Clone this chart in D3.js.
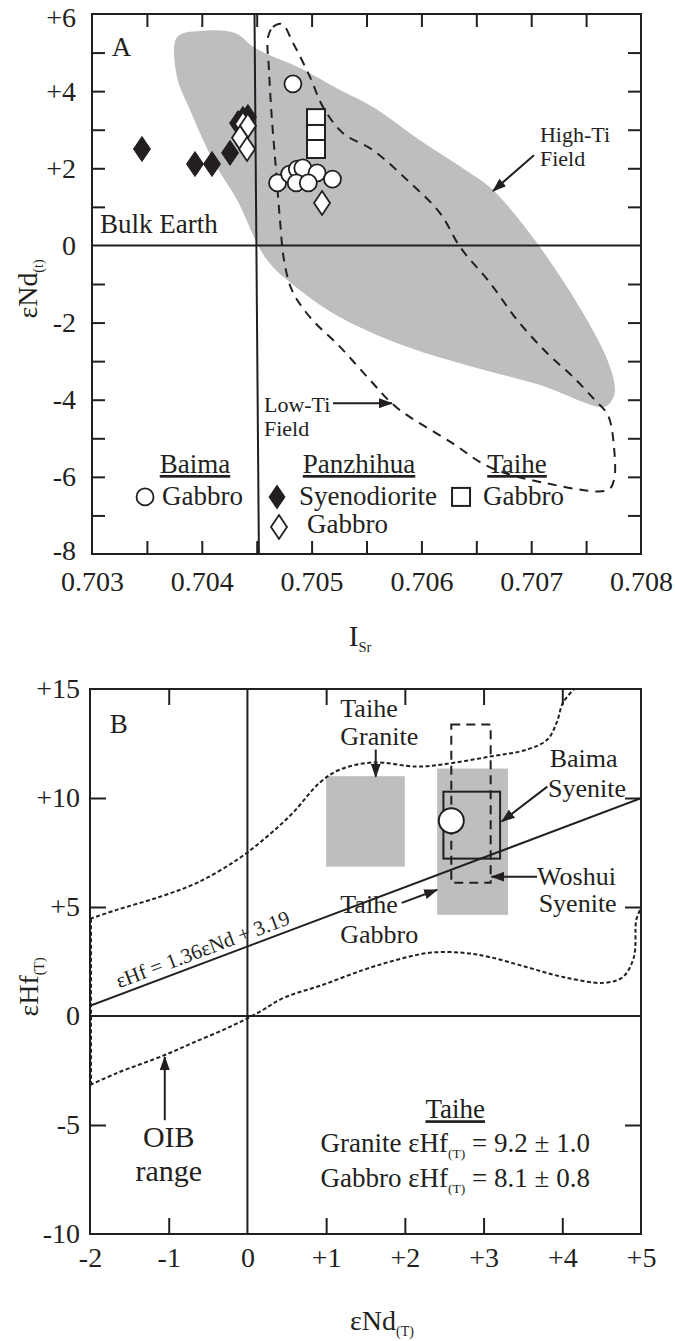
<!DOCTYPE html>
<html>
<head>
<meta charset="utf-8">
<script src="https://cdn.jsdelivr.net/npm/d3@7"></script>
<style>
  body { margin: 0; background: #fff; }
  svg { display: block; }
  text { font-family: "Liberation Serif", "Times New Roman", serif; fill: #231f20; }
</style>
</head>
<body>
<div id="chart"></div>
<script>
// ---------- panel A : eNd(t) vs ISr ----------
const aXTicks = [0.703, 0.704, 0.705, 0.706, 0.707, 0.708];
const aXMinor = [0.7035, 0.704, 0.7045, 0.705, 0.7055, 0.706, 0.7065, 0.707, 0.7075];
const aYTicks = [6, 4, 2, 0, -2, -4, -6, -8];
const aYMinor = [-7, -6, -5, -4, -3, -2, -1, 1, 2, 3, 4, 5];

const highTiField = [[0.703774, 5.40], [0.703984, 5.56], [0.704302, 5.51], [0.704485, 5.12], [0.704894, 4.60],
  [0.705259, 4.03], [0.705559, 3.59], [0.705987, 2.73], [0.706443, 1.88], [0.706652, 1.44], [0.707053, 0.06],
  [0.707508, -1.93], [0.707718, -3.15], [0.707763, -3.75], [0.707736, -4.01], [0.707663, -4.19], [0.70708, -3.62],
  [0.70647, -3.15], [0.705869, -2.63], [0.705259, -1.86], [0.704894, -1.16], [0.704594, -0.38], [0.704321, 1.18],
  [0.704102, 2.21], [0.703893, 3.51], [0.703774, 4.37]];

const lowTiField = [[0.704603, 5.40], [0.704648, 5.66], [0.70473, 5.74], [0.704831, 5.25], [0.704985, 4.37],
  [0.705104, 3.59], [0.705286, 2.91], [0.705559, 2.47], [0.705869, 1.70], [0.706169, 0.84], [0.706352, -0.04],
  [0.706625, -0.97], [0.706871, -1.93], [0.707144, -2.79], [0.707381, -3.41], [0.707581, -4.01], [0.707699, -4.40],
  [0.707754, -5.23], [0.707754, -6.08], [0.707699, -6.34], [0.707126, -6.16], [0.706616, -5.74], [0.706279, -5.12],
  [0.705769, -4.19], [0.705532, -3.49], [0.705259, -2.63], [0.704985, -1.86], [0.704821, -1.16], [0.704749, -0.38],
  [0.704712, 0.66], [0.704676, 1.96], [0.704639, 3.25], [0.704612, 4.55]];

const bulkEarthSr = [[0.70448, 6], [0.70452, -8]];
const bulkEarthNd = 0;

const baimaGabbro = [[0.70483, 4.19], [0.70469, 1.62], [0.70480, 1.85], [0.70487, 1.98], [0.70492, 2.01],
  [0.70505, 1.88], [0.70519, 1.72], [0.70486, 1.62], [0.70497, 1.62]];
const panSyenodiorite = [[0.703455, 2.50], [0.703938, 2.11], [0.704093, 2.11], [0.704257, 2.40],
  [0.70433, 3.17], [0.704375, 3.28], [0.70442, 3.33]];
const panGabbro = [[0.704375, 3.15], [0.70442, 3.10], [0.704348, 2.79], [0.704412, 2.50], [0.705095, 1.10]];
const taiheGabbroA = [[0.70504, 3.30], [0.70504, 2.89], [0.70504, 2.50]];

// ---------- panel B : eHf(T) vs eNd(T) ----------
const bXTicks = [-2, -1, 0, 1, 2, 3, 4, 5];
const bXMinor = [-1, 1, 2, 3, 4];
const bYTicks = [15, 10, 5, 0, -5, -10];
const bYMinor = [10, 5, -5];

const oibUpper = [[-2.0, 4.46], [-1.66, 4.87], [-1.11, 5.47], [-0.64, 6.11], [-0.13, 7.17], [0.25, 8.23],
  [0.58, 9.33], [0.92, 10.71], [1.18, 11.31], [1.60, 11.63], [2.15, 11.44], [2.48, 11.54], [3.08, 11.90],
  [3.55, 12.22], [3.81, 12.68], [3.93, 13.47], [4.01, 14.38], [4.16, 15.03]];
const oibLower = [[-2.0, -3.17], [-1.66, -2.62], [-1.05, -1.79], [-0.70, -1.24], [-0.23, -0.51], [0.13, 0.14],
  [0.46, 0.83], [0.95, 1.42], [1.47, 2.11], [1.89, 2.57], [2.31, 2.90], [2.74, 2.90], [3.07, 2.71], [3.54, 2.25],
  [4.01, 1.79], [4.53, 1.52], [4.77, 1.79], [4.91, 2.71], [4.94, 4.41], [4.99, 4.87]];

const taiheGraniteBox = { x0: 1.0, x1: 2.0, y0: 6.85, y1: 11.0 };
const taiheGabbroBox = { x0: 2.41, x1: 3.31, y0: 4.64, y1: 11.35 };
const baimaSyeniteBox = { x0: 2.49, x1: 3.21, y0: 7.22, y1: 10.29 };
const woshuiSyeniteBox = { x0: 2.59, x1: 3.09, y0: 6.11, y1: 13.37 };
const baimaSyenitePoint = [2.59, 8.96];

const hfSlope = 1.36, hfIntercept = 3.19;

// ---------- drawing ----------
const ink = '#231f20';
const grey = '#bcbec0';
const signed = d => d > 0 ? '+' + d : d < 0 ? '-' + Math.abs(d) : '0';

const svg = d3.select('#chart').append('svg')
  .attr('width', 675)
  .attr('height', 1341);

const defs = svg.append('defs');
defs.append('marker')
  .attr('id', 'arrow')
  .attr('viewBox', '0 0 14 10')
  .attr('refX', 13).attr('refY', 5)
  .attr('markerWidth', 14).attr('markerHeight', 10)
  .attr('markerUnits', 'userSpaceOnUse')
  .attr('orient', 'auto')
  .append('path').attr('d', 'M0,0L14,5L0,10z').attr('fill', ink);

function arrow(g, x1, y1, x2, y2) {
  g.append('line')
    .attr('x1', x1).attr('y1', y1).attr('x2', x2).attr('y2', y2)
    .attr('stroke', ink).attr('stroke-width', 2)
    .attr('marker-end', 'url(#arrow)');
}

// parts: [text, isSub]
function rich(g, x, y, parts, size, anchor) {
  const t = g.append('text')
    .attr('x', x).attr('y', y)
    .attr('font-size', size)
    .attr('text-anchor', anchor || 'start');
  let shift = 0;
  parts.forEach(p => {
    const s = t.append('tspan').text(p[0]);
    const want = p[1] ? size * 0.22 : 0;
    if (want !== shift) { s.attr('dy', want - shift); shift = want; }
    if (p[1]) s.attr('font-size', size * 0.5);
  });
  return t;
}

function diamond(cx, cy, hw, hh) {
  return `M${cx},${cy - hh}L${cx + hw},${cy}L${cx},${cy + hh}L${cx - hw},${cy}Z`;
}

function tickAxis(g, axis) {
  g.call(axis);
  g.select('.domain').remove();
  g.selectAll('text').remove();
  g.selectAll('line').attr('stroke', ink).attr('stroke-width', 2);
}

function labelAxis(g, axis, size) {
  g.call(axis);
  g.select('.domain').remove();
  g.selectAll('line').remove();
  g.attr('font-size', size).attr('color', ink);
  g.selectAll('text').attr('font-size', size);
  return g;
}

// ================= Panel A =================
const xA = d3.scaleLinear().domain([0.703, 0.708]).range([92, 641]);
const yA = d3.scaleLinear().domain([-8, 6]).range([554, 14]);
const gA = svg.append('g');

defs.append('clipPath').attr('id', 'clipA').append('rect')
  .attr('x', xA(0.703)).attr('y', yA(6))
  .attr('width', xA(0.708) - xA(0.703)).attr('height', yA(-8) - yA(6));

const plotA = gA.append('g').attr('clip-path', 'url(#clipA)');
const lineA = d3.line().x(d => xA(d[0])).y(d => yA(d[1]));

plotA.append('path')
  .attr('d', lineA.curve(d3.curveCatmullRomClosed.alpha(0.5))(highTiField))
  .attr('fill', grey);

plotA.append('path')
  .attr('d', lineA.curve(d3.curveCatmullRomClosed.alpha(0.5))(lowTiField))
  .attr('fill', 'none').attr('stroke', ink).attr('stroke-width', 2)
  .attr('stroke-dasharray', '9,7');

plotA.append('line')
  .attr('x1', xA(0.703)).attr('x2', xA(0.708))
  .attr('y1', yA(bulkEarthNd)).attr('y2', yA(bulkEarthNd))
  .attr('stroke', ink).attr('stroke-width', 2);

plotA.append('path')
  .attr('d', d3.line().x(d => xA(d[0])).y(d => yA(d[1]))(bulkEarthSr))
  .attr('stroke', ink).attr('stroke-width', 2);

// symbols
plotA.selectAll('.syeno').data(panSyenodiorite).join('path')
  .attr('d', d => diamond(xA(d[0]), yA(d[1]), 8.5, 12.5))
  .attr('fill', ink).attr('stroke', ink).attr('stroke-width', 1);

plotA.selectAll('.pgab').data(panGabbro).join('path')
  .attr('d', d => diamond(xA(d[0]), yA(d[1]), 8, 12))
  .attr('fill', '#fff').attr('stroke', ink).attr('stroke-width', 1.8);

plotA.selectAll('.tsq').data(taiheGabbroA).join('rect')
  .attr('x', d => xA(d[0]) - 9).attr('y', d => yA(d[1]) - 9)
  .attr('width', 18).attr('height', 18)
  .attr('fill', '#fff').attr('stroke', ink).attr('stroke-width', 2);

plotA.selectAll('.bcirc').data(baimaGabbro).join('circle')
  .attr('cx', d => xA(d[0])).attr('cy', d => yA(d[1])).attr('r', 8.5)
  .attr('fill', '#fff').attr('stroke', ink).attr('stroke-width', 1.8);

// annotations
gA.append('text').attr('x', xA(0.70318)).attr('y', yA(4.9)).attr('font-size', 27).text('A');
gA.append('text').attr('x', xA(0.703073)).attr('y', yA(0.32)).attr('font-size', 27).text('Bulk Earth');

gA.append('text').attr('x', xA(0.70708)).attr('y', yA(2.68)).attr('font-size', 22).text('High-Ti');
gA.append('text').attr('x', xA(0.70708)).attr('y', yA(2.06)).attr('font-size', 22).text('Field');
arrow(gA, xA(0.707025), yA(2.34), xA(0.706652), yA(1.41));

gA.append('text').attr('x', xA(0.704566)).attr('y', yA(-4.32)).attr('font-size', 22).text('Low-Ti');
gA.append('text').attr('x', xA(0.704566)).attr('y', yA(-4.95)).attr('font-size', 22).text('Field');
arrow(gA, xA(0.705195), yA(-4.09), xA(0.705732), yA(-4.09));

// legend
const legY1 = -5.90, legY2 = -6.73, legY3 = -7.46;
const heads = [['Baima', 0.703938], ['Panzhihua', 0.705432], ['Taihe', 0.706871]];
heads.forEach(h => {
  gA.append('text').attr('x', xA(h[1])).attr('y', yA(legY1))
    .attr('font-size', 27).attr('text-anchor', 'middle')
    .attr('text-decoration', 'underline').text(h[0]);
});
gA.append('circle').attr('cx', xA(0.703483)).attr('cy', yA(-6.52)).attr('r', 8.5)
  .attr('fill', '#fff').attr('stroke', ink).attr('stroke-width', 1.8);
gA.append('text').attr('x', xA(0.703638)).attr('y', yA(legY2)).attr('font-size', 27).text('Gabbro');

gA.append('path').attr('d', diamond(xA(0.704685), yA(-6.52), 8.5, 12.5)).attr('fill', ink);
gA.append('text').attr('x', xA(0.704885)).attr('y', yA(legY2)).attr('font-size', 27).text('Syenodiorite');

gA.append('rect').attr('x', xA(0.706361) - 9).attr('y', yA(-6.52) - 9).attr('width', 18).attr('height', 18)
  .attr('fill', '#fff').attr('stroke', ink).attr('stroke-width', 2);
gA.append('text').attr('x', xA(0.706561)).attr('y', yA(legY2)).attr('font-size', 27).text('Gabbro');

gA.append('path').attr('d', diamond(xA(0.704703), yA(-7.30), 8, 12))
  .attr('fill', '#fff').attr('stroke', ink).attr('stroke-width', 1.8);
gA.append('text').attr('x', xA(0.704958)).attr('y', yA(legY3)).attr('font-size', 27).text('Gabbro');

// frame + ticks
gA.append('rect')
  .attr('x', xA(0.703)).attr('y', yA(6))
  .attr('width', xA(0.708) - xA(0.703)).attr('height', yA(-8) - yA(6))
  .attr('fill', 'none').attr('stroke', ink).attr('stroke-width', 2);

tickAxis(gA.append('g').attr('transform', `translate(${xA(0.703)},0)`),
  d3.axisLeft(yA).tickValues(aYMinor).tickSizeInner(-13).tickSizeOuter(0));
tickAxis(gA.append('g').attr('transform', `translate(${xA(0.708)},0)`),
  d3.axisRight(yA).tickValues(aYMinor).tickSizeInner(-13).tickSizeOuter(0));
tickAxis(gA.append('g').attr('transform', `translate(0,${yA(6)})`),
  d3.axisTop(xA).tickValues(aXMinor).tickSizeInner(-13).tickSizeOuter(0));
tickAxis(gA.append('g').attr('transform', `translate(0,${yA(-8)})`),
  d3.axisBottom(xA).tickValues(aXMinor).tickSizeInner(-13).tickSizeOuter(0));

// end labels sit at the frame corners: nudge them inward a little
labelAxis(gA.append('g').attr('transform', `translate(${xA(0.703)},0)`),
  d3.axisLeft(yA).tickValues(aYTicks).tickSize(0).tickPadding(16).tickFormat(signed), 28)
  .selectAll('text').attr('dy', d => d === 6 ? '0.45em' : d === -8 ? '0.2em' : '0.32em');
labelAxis(gA.append('g').attr('transform', `translate(0,${yA(-8)})`),
  d3.axisBottom(xA).tickValues(aXTicks).tickSize(0).tickPadding(17).tickFormat(d3.format('.3f')), 28);

rich(gA, 360, 646, [['I'], ['Sr', true]], 29, 'middle');
rich(gA.append('g').attr('transform', 'translate(37,289) rotate(-90)'), 0, 0,
  [['εNd'], ['(t)', true]], 28, 'middle');

// ================= Panel B =================
const xB = d3.scaleLinear().domain([-2, 5]).range([90, 641]);
const yB = d3.scaleLinear().domain([-10, 15]).range([1234, 689]);
const gB = svg.append('g');

defs.append('clipPath').attr('id', 'clipB').append('rect')
  .attr('x', xB(-2)).attr('y', yB(15))
  .attr('width', xB(5) - xB(-2)).attr('height', yB(-10) - yB(15));

const plotB = gB.append('g').attr('clip-path', 'url(#clipB)');
const lineB = d3.line().x(d => xB(d[0])).y(d => yB(d[1]));

function boxRect(g, b) {
  return g.append('rect')
    .attr('x', xB(b.x0)).attr('y', yB(b.y1))
    .attr('width', xB(b.x1) - xB(b.x0)).attr('height', yB(b.y0) - yB(b.y1));
}

boxRect(plotB, taiheGraniteBox).attr('fill', grey);
boxRect(plotB, taiheGabbroBox).attr('fill', grey);

// axes cross lines
plotB.append('line')
  .attr('x1', xB(-2)).attr('x2', xB(5)).attr('y1', yB(0)).attr('y2', yB(0))
  .attr('stroke', ink).attr('stroke-width', 2);
plotB.append('line')
  .attr('x1', xB(0)).attr('x2', xB(0)).attr('y1', yB(15)).attr('y2', yB(-10))
  .attr('stroke', ink).attr('stroke-width', 2);

// OIB envelope
lineB.curve(d3.curveCatmullRom.alpha(0.5));
[oibUpper, oibLower].forEach(c => {
  plotB.append('path').attr('d', lineB(c))
    .attr('fill', 'none').attr('stroke', ink).attr('stroke-width', 2)
    .attr('stroke-dasharray', '4,2.5');
});
plotB.append('line')
  .attr('x1', xB(-2) + 1).attr('x2', xB(-2) + 1)
  .attr('y1', yB(oibUpper[0][1])).attr('y2', yB(oibLower[0][1]))
  .attr('stroke', ink).attr('stroke-width', 2).attr('stroke-dasharray', '4,2.5');

// eHf = 1.36 eNd + 3.19
const hfLine = [-2, 5].map(v => [v, hfSlope * v + hfIntercept]);
plotB.append('path').attr('d', d3.line().x(d => xB(d[0])).y(d => yB(d[1]))(hfLine))
  .attr('stroke', ink).attr('stroke-width', 2);

boxRect(plotB, woshuiSyeniteBox)
  .attr('fill', 'none').attr('stroke', ink).attr('stroke-width', 2).attr('stroke-dasharray', '9,6');
boxRect(plotB, baimaSyeniteBox)
  .attr('fill', 'none').attr('stroke', ink).attr('stroke-width', 2);
plotB.append('circle')
  .attr('cx', xB(baimaSyenitePoint[0])).attr('cy', yB(baimaSyenitePoint[1])).attr('r', 12.5)
  .attr('fill', '#fff').attr('stroke', ink).attr('stroke-width', 2);

// equation label along the line
const eqX = -1.6;
const ang = Math.atan2(yB(hfLine[1][1]) - yB(hfLine[0][1]), xB(hfLine[1][0]) - xB(hfLine[0][0])) * 180 / Math.PI;
gB.append('g')
  .attr('transform', `translate(${xB(eqX)},${yB(hfSlope * eqX + hfIntercept)}) rotate(${ang})`)
  .append('text').attr('x', 0).attr('y', -6).attr('font-size', 21)
  .text('εHf = 1.36εNd + 3.19');

// annotations
gB.append('text').attr('x', xB(-1.75)).attr('y', yB(13.0)).attr('font-size', 27).text('B');

gB.append('text').attr('x', xB(1.18)).attr('y', yB(13.72)).attr('font-size', 26).text('Taihe');
gB.append('text').attr('x', xB(1.18)).attr('y', yB(12.45)).attr('font-size', 26).text('Granite');
arrow(gB, xB(1.63), yB(12.22), xB(1.63), yB(10.98));

gB.append('text').attr('x', xB(3.84)).attr('y', yB(11.44)).attr('font-size', 26).text('Baima');
gB.append('text').attr('x', xB(3.82)).attr('y', yB(10.06)).attr('font-size', 26).text('Syenite');
arrow(gB, xB(3.81), yB(10.52), xB(3.23), yB(8.92));

gB.append('text').attr('x', xB(3.68)).attr('y', yB(6.02)).attr('font-size', 26).text('Woshui');
gB.append('text').attr('x', xB(3.70)).attr('y', yB(4.75)).attr('font-size', 26).text('Syenite');
arrow(gB, xB(3.68), yB(6.39), xB(3.10), yB(6.39));

gB.append('text').attr('x', xB(1.18)).attr('y', yB(4.73)).attr('font-size', 26).text('Taihe');
gB.append('text').attr('x', xB(1.18)).attr('y', yB(3.35)).attr('font-size', 26).text('Gabbro');
arrow(gB, xB(1.96), yB(5.19), xB(2.41), yB(5.79));

gB.append('text').attr('x', xB(-1.0)).attr('y', yB(-6.02)).attr('font-size', 30).attr('text-anchor', 'middle').text('OIB');
gB.append('text').attr('x', xB(-1.0)).attr('y', yB(-7.55)).attr('font-size', 30).attr('text-anchor', 'middle').text('range');
arrow(gB, xB(-1.05), yB(-4.78), xB(-1.05), yB(-1.88));

gB.append('text').attr('x', xB(2.64)).attr('y', yB(-4.69)).attr('font-size', 27)
  .attr('text-anchor', 'middle').attr('text-decoration', 'underline').text('Taihe');
rich(gB, xB(2.64), yB(-6.25), [['Granite εHf'], ['(T)', true], [' = 9.2 ± 1.0']], 27, 'middle');
rich(gB, xB(2.64), yB(-7.86), [['Gabbro εHf'], ['(T)', true], [' = 8.1 ± 0.8']], 27, 'middle');

// frame + ticks
gB.append('rect')
  .attr('x', xB(-2)).attr('y', yB(15))
  .attr('width', xB(5) - xB(-2)).attr('height', yB(-10) - yB(15))
  .attr('fill', 'none').attr('stroke', ink).attr('stroke-width', 2);

tickAxis(gB.append('g').attr('transform', `translate(${xB(-2)},0)`),
  d3.axisLeft(yB).tickValues(bYMinor).tickSizeInner(-16).tickSizeOuter(0));
tickAxis(gB.append('g').attr('transform', `translate(${xB(5)},0)`),
  d3.axisRight(yB).tickValues(bYMinor).tickSizeInner(-16).tickSizeOuter(0));
tickAxis(gB.append('g').attr('transform', `translate(0,${yB(15)})`),
  d3.axisTop(xB).tickValues(bXMinor).tickSizeInner(-16).tickSizeOuter(0));
tickAxis(gB.append('g').attr('transform', `translate(0,${yB(-10)})`),
  d3.axisBottom(xB).tickValues(bXMinor).tickSizeInner(-16).tickSizeOuter(0));

labelAxis(gB.append('g').attr('transform', `translate(${xB(-2)},0)`),
  d3.axisLeft(yB).tickValues(bYTicks).tickSize(0).tickPadding(10).tickFormat(signed), 28);
labelAxis(gB.append('g').attr('transform', `translate(0,${yB(-10)})`),
  d3.axisBottom(xB).tickValues(bXTicks).tickSize(0).tickPadding(13).tickFormat(signed), 28);

rich(gB, 382, 1330, [['εNd'], ['(T)', true]], 28, 'middle');
rich(gB.append('g').attr('transform', 'translate(38,987) rotate(-90)'), 0, 0,
  [['εHf'], ['(T)', true]], 28, 'middle');
</script>
</body>
</html>
